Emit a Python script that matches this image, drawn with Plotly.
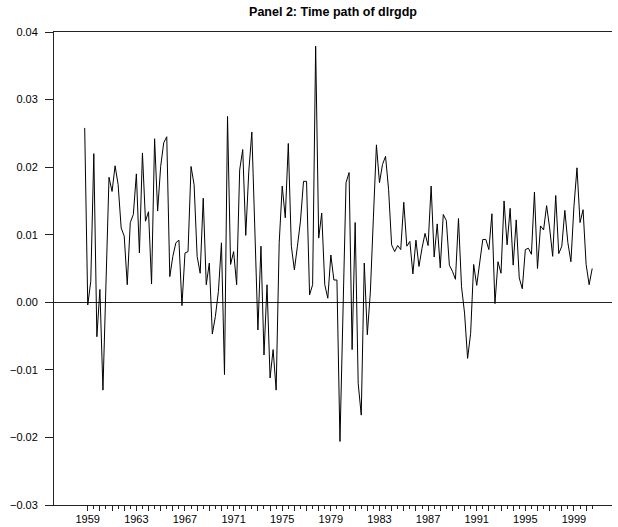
import plotly.graph_objects as go

# quarterly log-difference of real GDP, 1959Q2 .. 2001Q1
start_year = 1959
start_quarter = 2
dlrgdp = [
    0.0258, -0.0004, 0.0031, 0.0220, -0.0051, 0.0019, -0.0130, 0.0045, 0.0185, 0.0164,
    0.0202, 0.0174, 0.0110, 0.0098, 0.0026, 0.0118, 0.0130, 0.0190, 0.0073, 0.0221,
    0.0120, 0.0134, 0.0027, 0.0242, 0.0135, 0.0201, 0.0236, 0.0245, 0.0038, 0.0068,
    0.0088, 0.0092, -0.0005, 0.0073, 0.0075, 0.0201, 0.0174, 0.0068, 0.0043, 0.0154,
    0.0026, 0.0058, -0.0047, -0.0021, 0.0016, 0.0088, -0.0107, 0.0275, 0.0056, 0.0075,
    0.0026, 0.0196, 0.0226, 0.0099, 0.0194, 0.0252, 0.0103, -0.0041, 0.0083, -0.0078,
    0.0026, -0.0112, -0.0070, -0.0130, 0.0088, 0.0172, 0.0125, 0.0235, 0.0083, 0.0048,
    0.0083, 0.0120, 0.0179, 0.0179, 0.0011, 0.0026, 0.0379, 0.0095, 0.0132, 0.0026,
    0.0006, 0.0070, 0.0033, 0.0033, -0.0206, -0.0012, 0.0177, 0.0192, -0.0070, 0.0118,
    -0.0120, -0.0167, 0.0058, -0.0048, 0.0015, 0.0125, 0.0233, 0.0177, 0.0204, 0.0216,
    0.0167, 0.0085, 0.0075, 0.0084, 0.0078, 0.0148, 0.0083, 0.0090, 0.0042, 0.0092,
    0.0053, 0.0080, 0.0102, 0.0084, 0.0172, 0.0067, 0.0116, 0.0051, 0.0130, 0.0121,
    0.0055, 0.0046, 0.0034, 0.0124, 0.0023, -0.0016, -0.0083, -0.0046, 0.0056, 0.0025,
    0.0058, 0.0093, 0.0093, 0.0078, 0.0131, -0.0002, 0.0060, 0.0043, 0.0150, 0.0085,
    0.0139, 0.0055, 0.0122, 0.0036, 0.0020, 0.0078, 0.0080, 0.0071, 0.0163, 0.0050,
    0.0113, 0.0107, 0.0143, 0.0110, 0.0068, 0.0158, 0.0072, 0.0083, 0.0136, 0.0088,
    0.0060, 0.0142, 0.0199, 0.0118, 0.0137, 0.0056, 0.0026, 0.0050,
]
label_years = list(range(1959, 2000, 4))
tick_years = list(range(1959, 2001))
y_ticks = [-0.03, -0.02, -0.01, 0.00, 0.01, 0.02, 0.03, 0.04]

t = [start_year + (start_quarter - 1) / 4 + 0.25 * i for i in range(len(dlrgdp))]

major_vals = [y + 0.5 for y in tick_years]
major_text = [str(y) if y in label_years else "" for y in tick_years]
minor_vals = [y + 1.0 for y in tick_years]

fig = go.Figure()
fig.add_trace(go.Scatter(x=t, y=dlrgdp, mode="lines",
                         line=dict(color="black", width=1), showlegend=False,
                         hoverinfo="skip"))

font = dict(family="Liberation Sans, Arial, sans-serif", size=11, color="black")

fig.update_layout(
    width=618, height=527,
    margin=dict(l=54, r=6, t=32, b=22, autoexpand=False),
    paper_bgcolor="white", plot_bgcolor="white",
    font=font,
    title=dict(text="<b>Panel 2: Time path of dlrgdp</b>",
               x=0.5, xref="paper", y=1 - 12 / 527, yref="container",
               xanchor="center", yanchor="middle",
               font=dict(family="Liberation Sans, Arial, sans-serif", size=12.5, color="black")),
    xaxis=dict(range=[1956.724, 2002.63], showgrid=False, zeroline=False,
               showline=True, linecolor="#222", linewidth=1, mirror=True,
               tickmode="array", tickvals=major_vals, ticktext=major_text,
               ticks="outside", ticklen=5, tickcolor="#222", tickwidth=1,
               ticklabelstandoff=-1,
               minor=dict(tickvals=minor_vals, ticks="outside", ticklen=3,
                          tickcolor="#222", tickwidth=1, showgrid=False),
               tickfont=font, automargin=False, fixedrange=True),
    yaxis=dict(range=[-0.03, 0.04], showgrid=False,
               zeroline=True, zerolinecolor="#222", zerolinewidth=1,
               showline=True, linecolor="#222", linewidth=1,
               tickmode="array", tickvals=y_ticks, tickformat=".2f",
               ticks="outside", ticklen=8, tickcolor="#222", tickwidth=1,
               ticklabelstandoff=5,
               tickfont=font, automargin=False, fixedrange=True),
)

fig.write_html(
    "out.html",
    config={"displayModeBar": False},
    post_script=(
        "document.body.style.margin='0';"
        "document.body.style.padding='0';"
        "document.documentElement.style.overflow='hidden';"
    ),
)
